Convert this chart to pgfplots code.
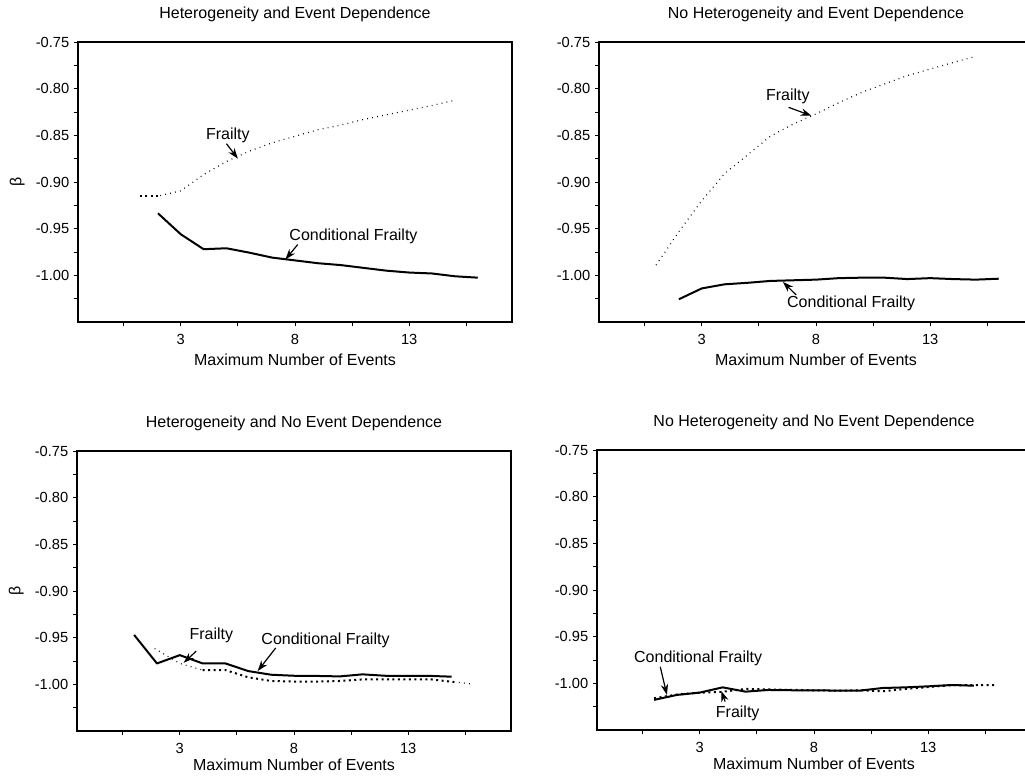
\documentclass[border=0pt]{standalone}
\usepackage{pgfplots}
\pgfplotsset{compat=1.18}
\usepackage{fontspec}
\setmainfont{Liberation Sans}
\usetikzlibrary{arrows.meta}
\tikzset{arr/.style={-{Stealth[length=8pt,width=5.5pt]}, line width=0.9pt},
  ttl/.style={anchor=center, font=\fontsize{12}{14}\selectfont}}
\pgfplotsset{
  myax/.style={
    scale only axis, width=325.5pt, height=210pt, anchor=north west,
    xmin=-1.5, xmax=17.5, ymin=-1.05, ymax=-0.75,
    axis line style={line width=1.5pt},
    xtick={3,8,13}, xticklabels={3,8,13},
    minor xtick={0.5,5.5,10.5,15.5},
    ytick={-1.00,-0.95,-0.90,-0.85,-0.80,-0.75},
    yticklabels={-1.00,-0.95,-0.90,-0.85,-0.80,-0.75},
    minor ytick={-1.025,-0.975,-0.925,-0.875,-0.825,-0.775},
    tick pos=left, tick align=outside,
    major tick length=3pt, minor tick length=3pt,
    tick style={line width=0.75pt, black},
    font=\fontsize{12}{14}\selectfont,
    tick label style={font=\fontsize{11}{13}\selectfont},
    xticklabel style={yshift=-3pt},
    xlabel={Maximum Number of Events},
    clip=false,
  },
  cf/.style={black, line width=1.5pt, line join=round},
  fr/.style={black, line width=0.9pt, dash pattern=on 0.6pt off 3.2pt},
  frb/.style={black, line width=1.5pt, dash pattern=on 1.5pt off 2.6pt},
}
\begin{document}
\begin{tikzpicture}
\useasboundingbox (0,0) rectangle (768.75pt,-582pt);
% Top left
\begin{axis}[myax, at={(58.5pt,-31.5pt)},
  ylabel={β},
  ylabel style={at={(axis description cs:-0.14,0.5)}, anchor=center},
  xlabel style={at={(axis description cs:0.5,-0.1357)}, anchor=center}]
\node[ttl] at (rel axis cs:0.5,1.1) {Heterogeneity and Event Dependence};
\addplot[cf] coordinates {(2,-0.9335)(3,-0.956)(4,-0.972)(5,-0.971)(6,-0.9757)(7,-0.981)(8,-0.984)(9,-0.987)(10,-0.989)(11,-0.992)(12,-0.995)(13,-0.997)(14,-0.998)(15,-1.001)(16,-1.0025)};
\addplot[fr] coordinates {(2.1,-0.9145)(3,-0.9095)(4,-0.892)(5,-0.878)(6,-0.867)(7,-0.858)(8,-0.851)(9,-0.844)(10,-0.839)(11,-0.833)(12,-0.828)(13,-0.823)(14,-0.818)(14.9,-0.813)};
\addplot[frb] coordinates {(1.2,-0.9145)(2.1,-0.9145)};
\node at (axis cs:5.06,-0.850) {Frailty};
\draw[arr] (axis cs:5.0,-0.859) -- (axis cs:5.5,-0.875);
\node at (axis cs:10.56,-0.958) {Conditional Frailty};
\draw[arr] (axis cs:8.12,-0.967) -- (axis cs:7.58,-0.983);
\end{axis}
% Top right
\begin{axis}[myax, at={(449.25pt,-31.5pt)},
  xlabel style={at={(axis description cs:0.5,-0.1357)}, anchor=center}]
\node[ttl] at (rel axis cs:0.5,1.1) {No Heterogeneity and Event Dependence};
\addplot[cf] coordinates {(2,-1.0256)(3,-1.014)(4,-1.0096)(5,-1.008)(6,-1.006)(7,-1.0053)(8,-1.0046)(9,-1.003)(10,-1.0025)(11,-1.0025)(12,-1.004)(13,-1.003)(14,-1.004)(15,-1.0046)(16,-1.0036)};
\addplot[fr] coordinates {(1,-0.989)(2,-0.953)(3,-0.920)(4,-0.891)(5,-0.871)(6,-0.851)(7,-0.838)(8,-0.827)(9,-0.815)(10,-0.804)(11,-0.795)(12,-0.786)(13,-0.779)(14,-0.772)(14.9,-0.766)};
\node at (axis cs:6.77,-0.808) {Frailty};
\draw[arr] (axis cs:6.8,-0.820) -- (axis cs:7.8,-0.829);
\node at (axis cs:9.54,-1.030) {Conditional Frailty};
\draw[arr] (axis cs:7.13,-1.021) -- (axis cs:6.55,-1.007);
\end{axis}
% Bottom left
\begin{axis}[myax, at={(57.75pt,-338.25pt)},
  ylabel={β},
  ylabel style={at={(axis description cs:-0.14,0.5)}, anchor=center},
  xlabel style={at={(axis description cs:0.5,-0.121)}, anchor=center}]
\node[ttl] at (rel axis cs:0.5,1.1) {Heterogeneity and No Event Dependence};
\addplot[fr] coordinates {(1.9,-0.9616)(3,-0.9776)(4,-0.9847)};
\addplot[frb] coordinates {(4,-0.9847)(5,-0.9847)(6,-0.9925)(7,-0.9964)(8,-0.997)(9,-0.997)(10,-0.9964)(11,-0.9947)(12,-0.9947)(13,-0.9947)(14,-0.9947)(15,-0.9975)};
\addplot[fr] coordinates {(15,-0.9975)(15.7,-0.9993)};
\addplot[cf] coordinates {(1,-0.947)(2,-0.9776)(3,-0.9687)(4,-0.9776)(5,-0.9776)(6,-0.9858)(7,-0.9897)(8,-0.9908)(9,-0.991)(10,-0.9915)(11,-0.9893)(12,-0.9908)(13,-0.9908)(14,-0.991)(14.9,-0.9918)};
\node at (axis cs:4.38,-0.947) {Frailty};
\draw[arr] (axis cs:3.72,-0.9644) -- (axis cs:3.17,-0.9769);
\node at (axis cs:9.38,-0.9527) {Conditional Frailty};
\draw[arr] (axis cs:7.2,-0.961) -- (axis cs:6.41,-0.9858);
\end{axis}
% Bottom right
\begin{axis}[myax, at={(447.75pt,-337.5pt)},
  xlabel style={at={(axis description cs:0.5,-0.121)}, anchor=center}]
\node[ttl] at (rel axis cs:0.5,1.1) {No Heterogeneity and No Event Dependence};
\addplot[frb] coordinates {(1,-1.016)(2,-1.012)(3,-1.010)(4,-1.009)(5,-1.006)(6,-1.0065)(7,-1.007)(8,-1.0075)(9,-1.0078)(10,-1.0075)(11,-1.0085)(12,-1.006)(13,-1.004)(14,-1.002)(15,-1.002)(16,-1.002)};
\addplot[cf] coordinates {(1,-1.0177)(2,-1.0124)(3,-1.0099)(4,-1.0043)(5,-1.0089)(6,-1.0071)(7,-1.0074)(8,-1.0074)(9,-1.0078)(10,-1.0078)(11,-1.005)(12,-1.0043)(13,-1.0032)(14,-1.0018)(15,-1.0025)};
\node at (axis cs:2.93,-0.9727) {Conditional Frailty};
\draw[arr] (axis cs:1.27,-0.9823) -- (axis cs:1.56,-1.0124);
\node at (axis cs:4.66,-1.0319) {Frailty};
\draw[arr] (axis cs:4.11,-1.0195) -- (axis cs:3.94,-1.0082);
\end{axis}
\end{tikzpicture}
\end{document}
